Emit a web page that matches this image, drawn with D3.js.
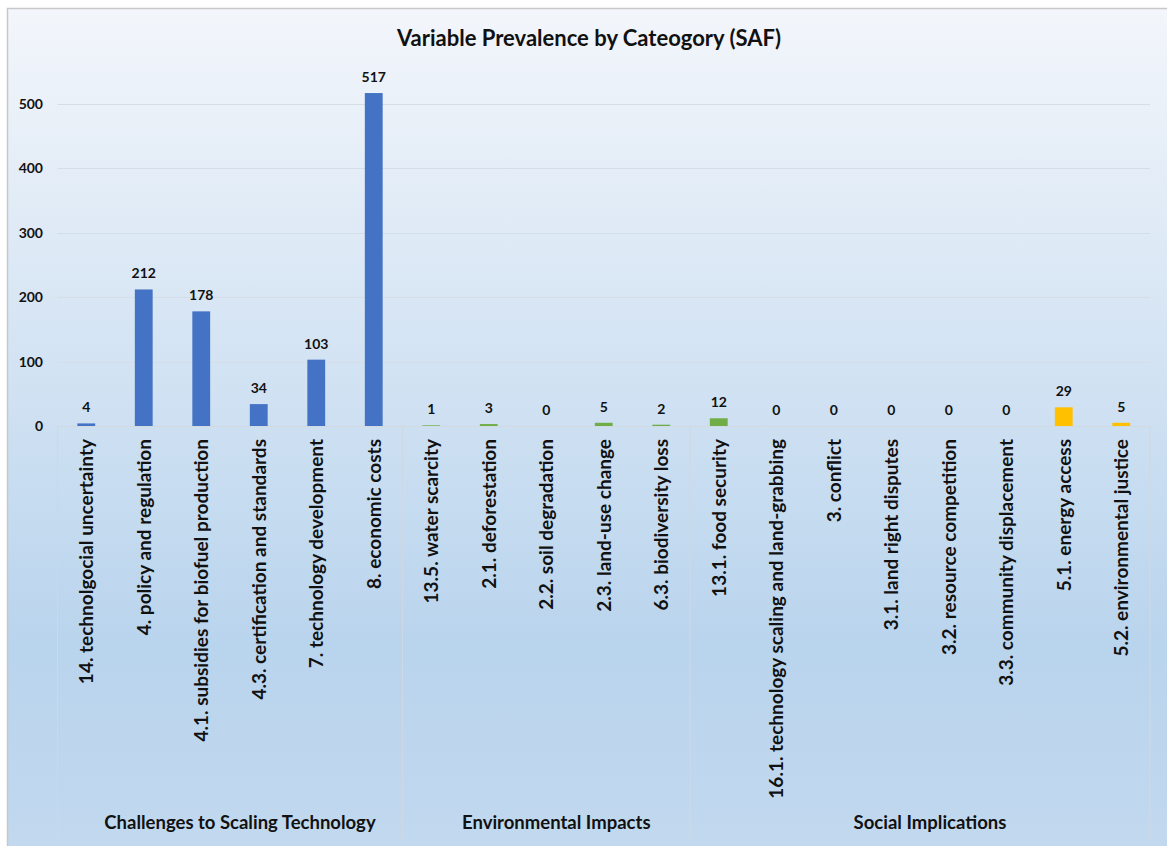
<!DOCTYPE html>
<html><head><meta charset="utf-8">
<script src="https://cdn.jsdelivr.net/npm/d3@7"></script>
<style>body{margin:0;background:#fff;}svg{display:block;font-family:Lato,"Open Sans",sans-serif;}</style>
</head><body><svg id="c" width="1167" height="846"></svg>
<script>
const title = "Variable Prevalence by Cateogory (SAF)";
const categories = ["14. technolgocial uncertainty","4. policy and regulation","4.1. subsidies for biofuel production","4.3. certification and standards","7. technology development","8. economic costs","13.5. water scarcity","2.1. deforestation","2.2. soil degradation","2.3. land-use change","6.3. biodiversity loss","13.1. food security","16.1. technology scaling and land-grabbing","3. conflict","3.1. land right disputes","3.2. resource competition","3.3. community displacement","5.1. energy access","5.2. environmental justice"];
const values = [4,212,178,34,103,517,1,3,0,5,2,12,0,0,0,0,0,29,5];
const barGroup = ["blue","blue","blue","blue","blue","blue","green","green","green","green","green","green","green","green","green","green","green","yellow","yellow"];
const groups = ["Challenges to Scaling Technology","Environmental Impacts","Social Implications"];
const groupSizes = [6,5,8];
const yTicks = [0,100,200,300,400,500];
const palette = {blue:"#4472C4", green:"#70AD47", yellow:"#FFC000"};

const svg = d3.select("#c");
const defs = svg.append("defs");
const grad = defs.append("linearGradient").attr("id","bg").attr("x1",0).attr("y1",0).attr("x2",0).attr("y2",1);
grad.append("stop").attr("offset","0%").attr("stop-color","#f3f6fb");
grad.append("stop").attr("offset","75%").attr("stop-color","#b9d4ed");
grad.append("stop").attr("offset","100%").attr("stop-color","#c2d9ef");
svg.append("rect").attr("x",7.5).attr("y",8.5).attr("width",1170).attr("height",850)
  .attr("fill","url(#bg)").attr("stroke","#c8c8c8").attr("stroke-width",1.5);

const left = 57.5, right = 1150, y0 = 426, bottom = 840;
const x = d3.scaleBand().domain(categories).range([left, right]).paddingInner(0.69).paddingOuter(0.345);
const bandStep = (right-left)/categories.length;
const y = d3.scaleLinear().domain([0,600]).range([y0, y0 - 6*64.4]);

// title
svg.append("text").attr("x",589).attr("y",46).attr("text-anchor","middle")
  .attr("font-weight",700).attr("font-size",22).attr("fill","#111").text(title);

// gridlines
svg.append("g").selectAll("line").data(yTicks.filter(d=>d>0)).join("line")
  .attr("x1",left).attr("x2",right).attr("y1",d=>Math.round(y(d))+0.5).attr("y2",d=>Math.round(y(d))+0.5)
  .attr("stroke","#d5dde6").attr("stroke-width",1);

// y axis labels
const yAxis = d3.axisLeft(y).tickValues(yTicks).tickSize(0).tickPadding(0);
const ya = svg.append("g").attr("transform","translate(43,0)").call(yAxis);
ya.select(".domain").remove();
ya.selectAll("text").attr("font-family","Lato,sans-serif").attr("font-weight",700).attr("font-size",14).attr("fill","#111");

// category box lines
svg.append("line").attr("x1",left).attr("x2",right).attr("y1",y0+0.5).attr("y2",y0+0.5).attr("stroke","#d3d9e0");
let acc = 0;
const bounds = [0];
groupSizes.forEach(s=>{acc+=s;bounds.push(acc);});
svg.append("g").selectAll("line").data(bounds).join("line")
  .attr("x1",d=>left+d*bandStep).attr("x2",d=>left+d*bandStep)
  .attr("y1",y0).attr("y2",bottom).attr("stroke","#cfd8e2").attr("stroke-width",1);

// bars
svg.append("g").selectAll("rect").data(values).join("rect")
  .attr("x",(d,i)=>x(categories[i])).attr("width",x.bandwidth())
  .attr("y",d=>y(d)).attr("height",d=>y0-y(d))
  .attr("fill",(d,i)=>palette[barGroup[i]]);

// value labels
svg.append("g").selectAll("text").data(values).join("text")
  .attr("x",(d,i)=>x(categories[i])+x.bandwidth()/2).attr("y",d=>y(d)-11)
  .attr("text-anchor","middle").attr("font-weight",700).attr("font-size",14).attr("fill","#111")
  .text(d=>d);

// category labels
svg.append("g").selectAll("text").data(categories).join("text")
  .attr("transform",d=>`translate(${x(d)+x.bandwidth()/2},439) rotate(-90)`)
  .attr("text-anchor","end").attr("dy","0.36em")
  .attr("font-weight",700).attr("font-size",19).attr("fill","#111").text(d=>d);

// group labels
svg.append("g").selectAll("text").data(groups).join("text")
  .attr("x",(d,i)=>left+(bounds[i]+bounds[i+1])/2*bandStep).attr("dx",10).attr("y",829)
  .attr("text-anchor","middle").attr("font-weight",700).attr("font-size",18.5).attr("fill","#111").text(d=>d);
</script></body></html>
